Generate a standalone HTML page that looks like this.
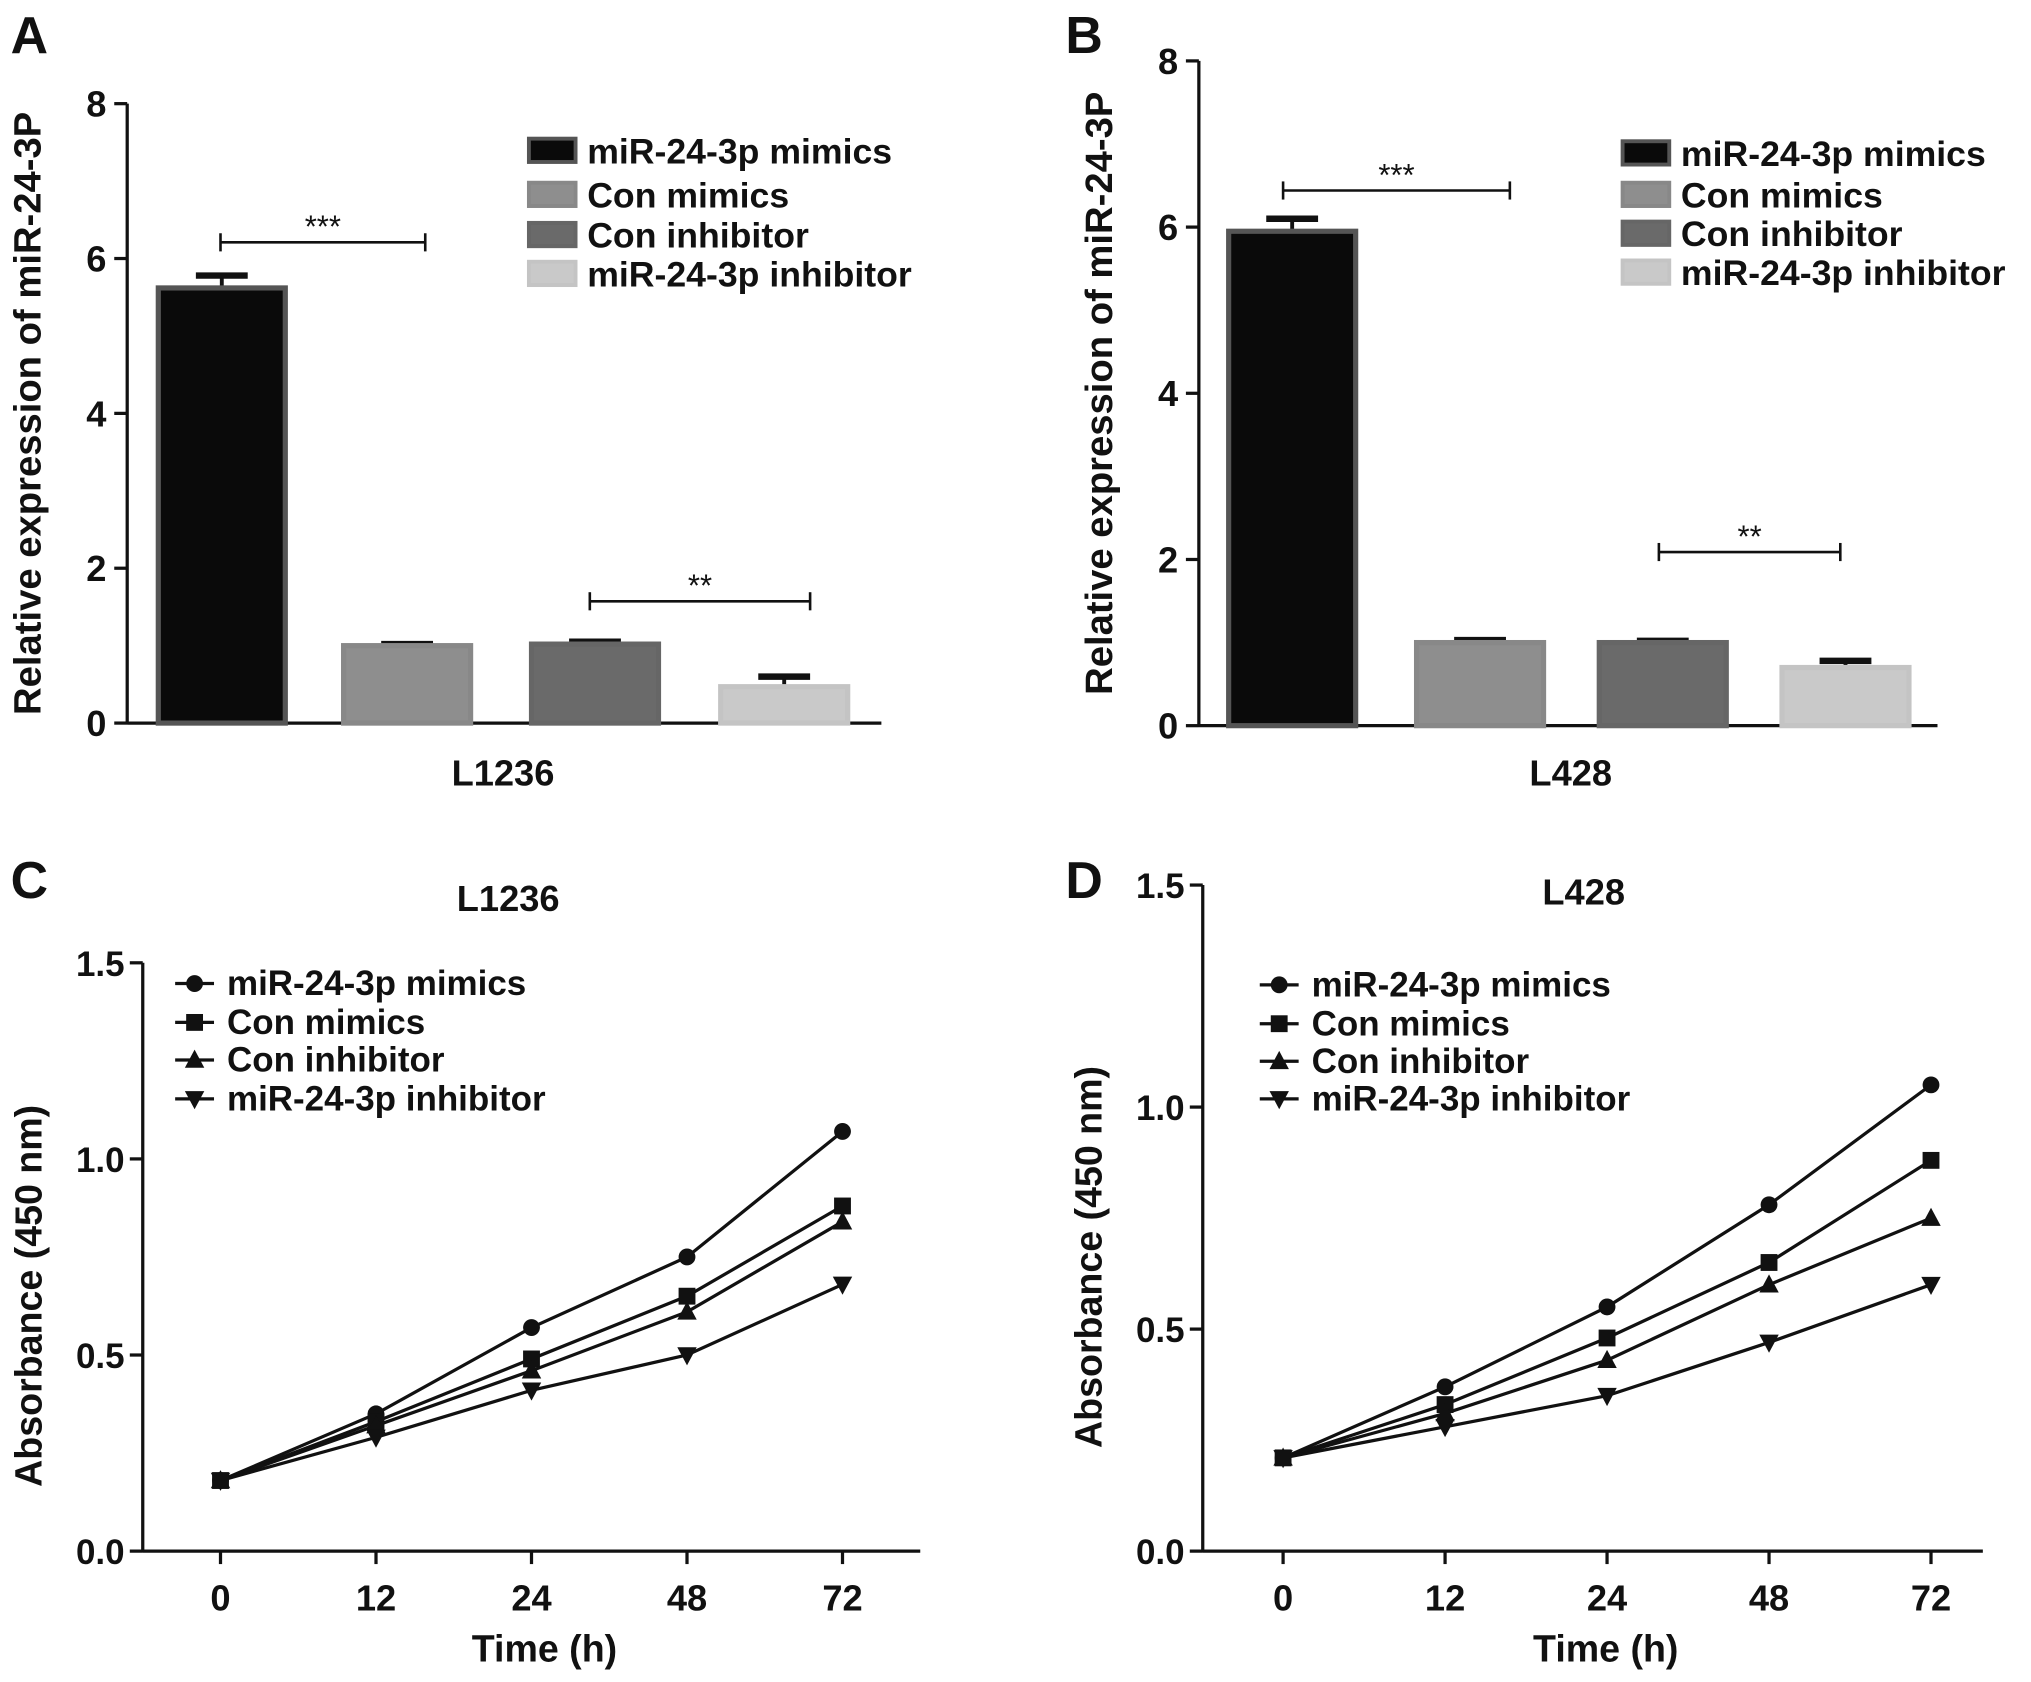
<!DOCTYPE html>
<html><head><meta charset="utf-8"><style>
html,body{margin:0;padding:0;background:#fff;}
svg{display:block;font-family:"Liberation Sans",Arial,sans-serif;font-weight:bold;}
</style></head><body>
<svg id="fig" width="2031" height="1682" viewBox="0 0 1567 1298" xmlns="http://www.w3.org/2000/svg">
<rect width="1567" height="1298" fill="#fff"/>
</svg>
<script>
// ---- data ----
const groups = ["miR-24-3p mimics","Con mimics","Con inhibitor","miR-24-3p inhibitor"];
const barA = [5.62, 1.0, 1.02, 0.47];
const errA = [0.16, 0.02, 0.03, 0.13];
const barB = [5.95, 1.0, 1.0, 0.7];
const errB = [0.15, 0.03, 0.02, 0.08];
const yTicksBar = [0,2,4,6,8];
const timeLabels = ["0","12","24","48","72"];
const yTicksLine = [0.0,0.5,1.0,1.5];
const cMimics = [0.18,0.35,0.57,0.75,1.07];
const cConMimics = [0.18,0.33,0.49,0.65,0.88];
const cConInh = [0.18,0.32,0.46,0.61,0.84];
const cInh = [0.18,0.29,0.41,0.50,0.68];
const dMimics = [0.21,0.37,0.55,0.78,1.05];
const dConMimics = [0.21,0.33,0.48,0.65,0.88];
const dConInh = [0.21,0.31,0.43,0.60,0.75];
const dInh = [0.21,0.28,0.35,0.47,0.60];

const NS="http://www.w3.org/2000/svg";
const svg=document.getElementById('fig');
function el(tag,attrs,parent,text){const e=document.createElementNS(NS,tag);for(const k in attrs)e.setAttribute(k,attrs[k]);if(text!==undefined)e.textContent=text;(parent||svg).appendChild(e);return e;}
const fills=["#0a0a0a","#8e8e8e","#6a6a6a","#c9c9c9"];
const strokes=["#555","#888","#666","#c4c4c4"];

function letter(t,x,y){const e=el('text',{x:x,y:y,'font-size':40,fill:'#111'},svg,t);

}
letter('A',8,41);letter('B',822,41);letter('C',8,693);letter('D',822,693);

function barPanel(id,ax,y0,y8,x1,bx,vals,errs,title,tx,legX,legY,sig){
  const g=el('g',{});
  
  
  const ys=v=>y0-(y0-y8)*v/8;
  el('line',{x1:ax,y1:y8,x2:ax,y2:y0+1,stroke:'#111','stroke-width':2.5},g);
  el('line',{x1:ax,y1:y0,x2:x1,y2:y0,stroke:'#111','stroke-width':2.5},g);
  yTicksBar.forEach(t=>{
    el('line',{x1:ax-10,y1:ys(t),x2:ax,y2:ys(t),stroke:'#111','stroke-width':2.5},g);
    const l=el('text',{x:ax-16,y:ys(t)+10,'font-size':28,'text-anchor':'end',fill:'#111'},g,String(t));
    
    
  });
  vals.forEach((v,i)=>{
    const x=bx[i],w=98;
    const e=errs[i];
    el('line',{x1:x+w/2,y1:ys(v),x2:x+w/2,y2:ys(v+e),stroke:'#111','stroke-width':3},g);
    el('line',{x1:x+w/2-20,y1:ys(v+e),x2:x+w/2+20,y2:ys(v+e),stroke:'#111','stroke-width':5},g);
    const r=el('rect',{x:x,y:ys(v),width:w,height:y0-ys(v),fill:fills[i],stroke:strokes[i],'stroke-width':4},g);
    
    
  });
  const yt=el('text',{transform:`translate(${ax-67},${(y0+y8)/2}) rotate(-90)`,'font-size':29.5,'text-anchor':'middle',fill:'#111'},g,'Relative expression of miR-24-3P');
  
  
  const xt=el('text',{x:tx,y:606,'font-size':28,'text-anchor':'middle',fill:'#111'},g,title);
  
  
  groups.forEach((n,i)=>{
    const y=legY[i];
    const sw=el('rect',{x:legX,y:y-9,width:36,height:18,fill:fills[i],stroke:strokes[i],'stroke-width':3},g);
    
    
    const t=el('text',{x:legX+45,y:y+10,'font-size':27.5,fill:'#111'},g,n);
    
    
  });
  sig.forEach(s=>{
    el('line',{x1:s[0],y1:s[2],x2:s[1],y2:s[2],stroke:'#111','stroke-width':2},g);
    el('line',{x1:s[0],y1:s[2]-7,x2:s[0],y2:s[2]+7,stroke:'#111','stroke-width':2},g);
    el('line',{x1:s[1],y1:s[2]-7,x2:s[1],y2:s[2]+7,stroke:'#111','stroke-width':2},g);
    const t=el('text',{x:(s[0]+s[1])/2,y:s[2]-4,'font-size':24,'font-weight':'normal','text-anchor':'middle',fill:'#111'},g,s[3]);
    
    
  });
}
barPanel('a',98,558,80,680,[122,265,410,556],barA,errA,'L1236',388,408,[116,150,181,211],[[170,328,187,'***'],[455,625,464,'**']]);
barPanel('b',925,560,47,1495,[948,1093,1234,1375],barB,errB,'L428',1212,1252,[118,150,180,210],[[990,1165,147,'***'],[1280,1420,426,'**']]);

function marker(g,type,x,y){
  if(type===0) el('circle',{cx:x,cy:y,r:6.5,fill:'#111'},g);
  else if(type===1) el('rect',{x:x-6.5,y:y-6.5,width:13,height:13,fill:'#111'},g);
  else if(type===2) el('polygon',{points:`${x},${y-8} ${x-7.5},${y+6} ${x+7.5},${y+6}`,fill:'#111'},g);
  else el('polygon',{points:`${x},${y+8} ${x-7.5},${y-6} ${x+7.5},${y-6}`,fill:'#111'},g);
}
function linePanel(id,ax,y0,ytop,x1,xs,series,title,titleX,titleY,legX,legY){
  const g=el('g',{});
  
  
  const ys=v=>y0-(y0-ytop)*v/1.5;
  el('line',{x1:ax,y1:ytop,x2:ax,y2:y0+1,stroke:'#111','stroke-width':2.5},g);
  el('line',{x1:ax,y1:y0,x2:x1,y2:y0,stroke:'#111','stroke-width':2.5},g);
  yTicksLine.forEach(t=>{
    el('line',{x1:ax-10,y1:ys(t),x2:ax,y2:ys(t),stroke:'#111','stroke-width':2.5},g);
    const l=el('text',{x:ax-14,y:ys(t)+10,'font-size':27,'text-anchor':'end',fill:'#111'},g,t.toFixed(1));
    
    
  });
  timeLabels.forEach((t,i)=>{
    el('line',{x1:xs[i],y1:y0,x2:xs[i],y2:y0+10,stroke:'#111','stroke-width':2.5},g);
    const l=el('text',{x:xs[i],y:y0+46,'font-size':28,'text-anchor':'middle',fill:'#111'},g,t);
    
    
  });
  series.forEach((s,k)=>{
    const p=el('polyline',{points:s.map((v,i)=>xs[i]+','+ys(v)).join(' '),fill:'none',stroke:'#111','stroke-width':2.5},g);
    
    
    s.forEach((v,i)=>marker(g,k,xs[i],ys(v)));
  });
  const tt=el('text',{x:titleX,y:titleY,'font-size':28,'text-anchor':'middle',fill:'#111'},g,title);
  
  
  const xt=el('text',{x:(ax+x1)/2+10,y:y0+85,'font-size':29,'text-anchor':'middle',fill:'#111'},g,'Time (h)');
  
  
  const yt=el('text',{transform:`translate(${ax-78},${(y0+ytop)/2+30}) rotate(-90)`,'font-size':29,'font-weight':'600','text-anchor':'middle',fill:'#111'},g,'Absorbance (450 nm)');
  
  
  groups.forEach((n,k)=>{
    const y=legY[k];
    el('line',{x1:legX,y1:y,x2:legX+30,y2:y,stroke:'#111','stroke-width':2.5},g);
    marker(g,k,legX+15,y);
    const t=el('text',{x:legX+40,y:y+9,'font-size':27,fill:'#111'},g,n);
    
    
  });
}
linePanel('c',110,1197,743,710,[170,290,410,530,650],[cMimics,cConMimics,cConInh,cInh],'L1236',392,703,135,[759,789,818,848]);
linePanel('d',928,1197,683,1530,[990,1115,1240,1365,1490],[dMimics,dConMimics,dConInh,dInh],'L428',1222,698,972,[760,790,819,848]);
</script>
</body></html>
